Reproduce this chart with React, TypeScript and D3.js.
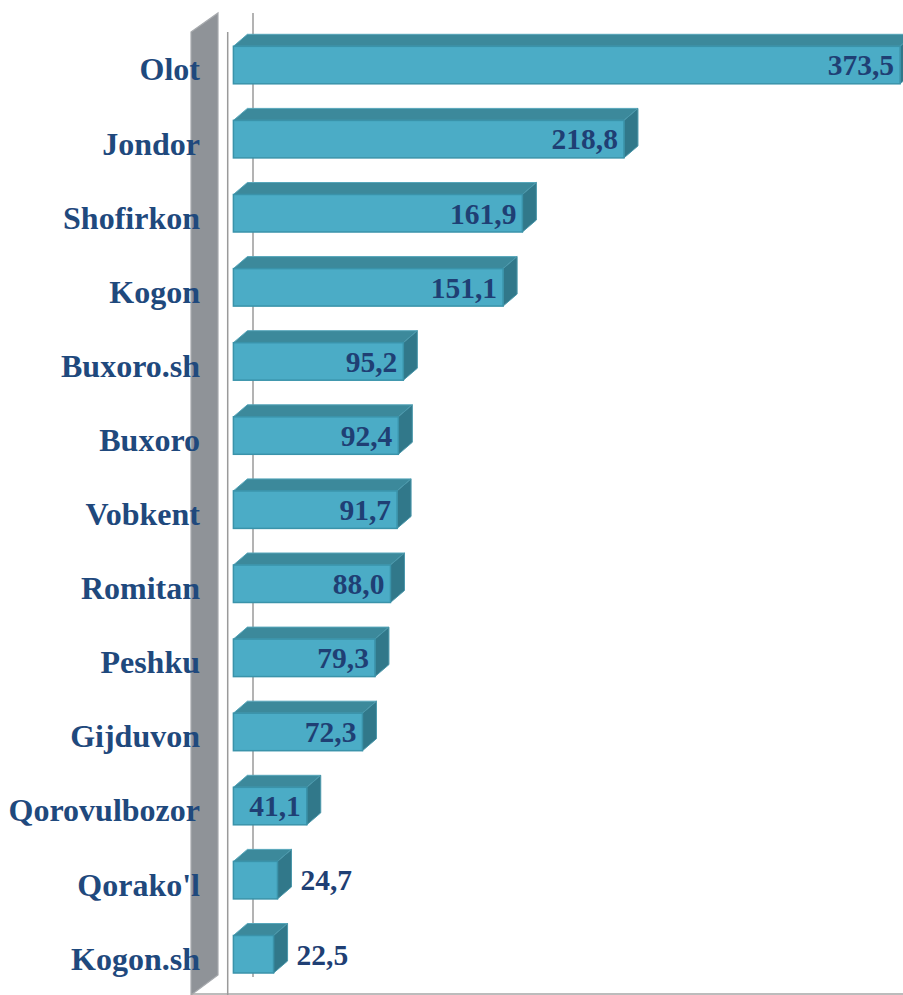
import React from "react";
import * as d3 from "d3";

const categories = [
  "Olot", "Jondor", "Shofirkon", "Kogon", "Buxoro.sh", "Buxoro", "Vobkent",
  "Romitan", "Peshku", "Gijduvon", "Qorovulbozor", "Qorako'l", "Kogon.sh",
];
const values = [373.5, 218.8, 161.9, 151.1, 95.2, 92.4, 91.7, 88.0, 79.3, 72.3, 41.1, 24.7, 22.5];
const valueLabels = ["373,5", "218,8", "161,9", "151,1", "95,2", "92,4", "91,7", "88,0", "79,3", "72,3", "41,1", "24,7", "22,5"];

const W = 903;
const H = 995;
const FONT = "'Liberation Serif', 'Times New Roman', serif";
const TEXT = "#1f497d";
const VAL = "#1f3f74";

export default function App() {
  const x = d3.scaleLinear().domain([0, 400]).range([233.4, 233.4 + 400 * 1.785]);
  const y = d3.scalePoint<string>().domain(categories).range([28, 28 + 74.1 * 13]).padding(0.5);
  const bw = 37.5;
  const dx = 14;
  const dy = -12;

  const data = categories.map((c, i) => ({ c, v: values[i], lab: valueLabels[i] }));

  return (
    <div style={{ position: "absolute", left: 0, top: 0 }}>
      <svg width={W} height={H} style={{ display: "block", background: "#fff" }}>
        {/* side wall */}
        <polygon points="191,32 218,13 218,975 191,995" fill="#8f9398" stroke="#a7aaae" strokeWidth={1.2} />
        {/* floor line */}
        <line x1={191} x2={W} y1={994} y2={994} stroke="#a6a6a6" strokeWidth={1.5} />
        {/* front axis line */}
        <line x1={227.7} x2={227.7} y1={32} y2={995} stroke="#9a9a9a" strokeWidth={1.5} />
        {/* back gridline */}
        <line x1={253} x2={253} y1={13} y2={977} stroke="#9a9a9a" strokeWidth={1.5} />

        {data.map((d) => {
          const yc = y(d.c) as number;
          const x0 = x(0);
          const x1 = x(d.v);
          const yt = yc - bw / 2;
          const yb = yc + bw / 2;
          const inside = x1 - x0 > 60;
          return (
            <g key={d.c}>
              <polygon
                points={`${x0},${yt} ${x0 + dx},${yt + dy} ${x1 + dx},${yt + dy} ${x1},${yt}`}
                fill="#3c899b"
                stroke="#56a6ba"
                strokeWidth={1}
              />
              <polygon
                points={`${x1},${yt} ${x1 + dx},${yt + dy} ${x1 + dx},${yb + dy} ${x1},${yb}`}
                fill="#31788a"
                stroke="#4b98ab"
                strokeWidth={1}
              />
              <rect x={x0} y={yt} width={x1 - x0} height={bw} fill="#4bacc6" stroke="#3a93aa" strokeWidth={1.5} />
              <text
                x={inside ? x1 - 6 : x1 + dx + 9}
                y={yc}
                dy="0.35em"
                textAnchor={inside ? "end" : "start"}
                fontFamily={FONT}
                fontWeight="bold"
                fontSize={29.5}
                fill={VAL}
              >
                {d.lab}
              </text>
              <text
                x={200}
                y={yc}
                dy="0.48em"
                textAnchor="end"
                fontFamily={FONT}
                fontWeight="bold"
                fontSize={32}
                fill={TEXT}
              >
                {d.c}
              </text>
            </g>
          );
        })}
      </svg>
    </div>
  );
}
